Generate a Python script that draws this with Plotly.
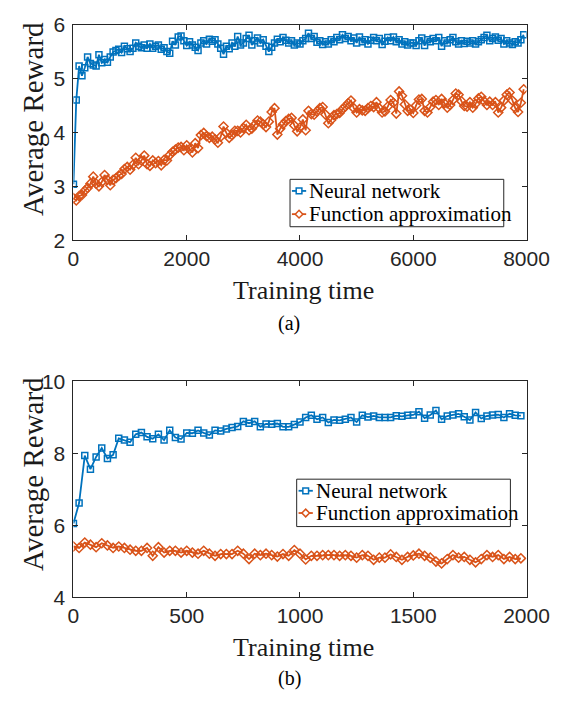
import plotly.graph_objects as go

W, H = 579, 702

# ---- data: (a) long run, sampled every 50 steps ----
time_a = list(range(0, 8000, 50))
nn_a = [
    3.04, 4.60, 5.23, 5.05, 5.20, 5.40, 5.28, 5.25, 5.23, 5.44,
    5.29, 5.35, 5.30, 5.40, 5.49, 5.52, 5.54, 5.48, 5.60, 5.55,
    5.50, 5.56, 5.66, 5.60, 5.57, 5.62, 5.56, 5.64, 5.56, 5.60,
    5.62, 5.54, 5.57, 5.50, 5.47, 5.69, 5.62, 5.77, 5.79, 5.70,
    5.61, 5.68, 5.62, 5.58, 5.52, 5.66, 5.70, 5.64, 5.73, 5.69,
    5.72, 5.64, 5.56, 5.45, 5.60, 5.55, 5.66, 5.60, 5.78, 5.62,
    5.66, 5.74, 5.80, 5.62, 5.70, 5.75, 5.66, 5.72, 5.60, 5.50,
    5.58, 5.66, 5.73, 5.68, 5.76, 5.71, 5.66, 5.70, 5.62, 5.66,
    5.64, 5.70, 5.74, 5.84, 5.74, 5.78, 5.67, 5.70, 5.63, 5.68,
    5.64, 5.72, 5.68, 5.76, 5.72, 5.81, 5.74, 5.78, 5.70, 5.75,
    5.66, 5.77, 5.68, 5.72, 5.64, 5.71, 5.76, 5.70, 5.74, 5.63,
    5.69, 5.76, 5.70, 5.77, 5.68, 5.72, 5.64, 5.68, 5.62, 5.66,
    5.66, 5.61, 5.70, 5.75, 5.61, 5.72, 5.68, 5.74, 5.70, 5.76,
    5.60, 5.70, 5.66, 5.72, 5.76, 5.68, 5.64, 5.70, 5.65, 5.69,
    5.66, 5.70, 5.64, 5.68, 5.72, 5.76, 5.80, 5.70, 5.74, 5.77,
    5.71, 5.74, 5.64, 5.70, 5.66, 5.63, 5.68, 5.66, 5.72, 5.81,
]
fa_a = [
    2.78, 2.74, 2.82, 2.84, 2.92, 2.97, 3.05, 3.18, 3.05, 3.00,
    3.08, 3.21, 3.12, 3.02, 3.12, 3.15, 3.20, 3.23, 3.32, 3.36,
    3.31, 3.40, 3.53, 3.41, 3.48, 3.57, 3.41, 3.38, 3.48, 3.43,
    3.47, 3.39, 3.49, 3.48, 3.58, 3.64, 3.68, 3.72, 3.73, 3.67,
    3.76, 3.69, 3.63, 3.80, 3.71, 3.95, 3.99, 3.93, 3.90, 3.92,
    3.87, 3.81, 3.92, 4.11, 3.99, 3.90, 3.95, 4.03, 4.03, 4.00,
    4.08, 4.14, 4.04, 4.07, 4.14, 4.22, 4.20, 4.15, 4.10, 4.20,
    4.38, 4.45, 3.96, 4.07, 4.15, 4.21, 4.25, 4.27, 4.13, 4.02,
    4.09, 4.24, 4.04, 4.40, 4.34, 4.33, 4.39, 4.45, 4.47, 4.33,
    4.17, 4.23, 4.32, 4.34, 4.36, 4.43, 4.48, 4.54, 4.59, 4.45,
    4.37, 4.43, 4.41, 4.40, 4.45, 4.49, 4.47, 4.56, 4.45, 4.37,
    4.39, 4.48, 4.60, 4.55, 4.35, 4.76, 4.68, 4.52, 4.40, 4.42,
    4.36, 4.50, 4.61, 4.62, 4.40, 4.37, 4.47, 4.57, 4.60, 4.51,
    4.62, 4.54, 4.46, 4.51, 4.60, 4.72, 4.70, 4.58, 4.49, 4.48,
    4.56, 4.46, 4.53, 4.63, 4.66, 4.58, 4.51, 4.57, 4.51, 4.56,
    4.37, 4.46, 4.59, 4.70, 4.74, 4.59, 4.45, 4.38, 4.55, 4.80,
]

# ---- data: (b) short run, sampled every 25 steps ----
time_b = list(range(0, 2000, 25))
nn_b = [
    6.05, 6.62, 7.94, 7.56, 7.90, 8.15, 7.86, 7.96, 8.42, 8.37,
    8.31, 8.53, 8.58, 8.46, 8.41, 8.53, 8.37, 8.64, 8.44, 8.40,
    8.57, 8.56, 8.64, 8.57, 8.51, 8.64, 8.62, 8.68, 8.72, 8.75,
    8.89, 8.84, 8.89, 8.74, 8.82, 8.81, 8.83, 8.74, 8.74, 8.80,
    8.87, 9.00, 9.06, 8.95, 9.00, 8.86, 8.93, 8.92, 8.95, 9.00,
    8.87, 9.06, 9.01, 9.04, 9.00, 9.00, 9.00, 9.05, 9.03, 9.06,
    9.07, 9.16, 8.98, 9.07, 9.19, 8.95, 9.04, 9.07, 9.10, 9.02,
    8.93, 9.14, 8.97, 9.04, 9.07, 9.08, 9.00, 9.10, 9.06, 9.05,
]
fa_b = [
    5.41, 5.37, 5.52, 5.46, 5.39, 5.50, 5.44, 5.37, 5.41, 5.37,
    5.32, 5.29, 5.29, 5.37, 5.15, 5.39, 5.24, 5.29, 5.29, 5.24,
    5.29, 5.24, 5.21, 5.29, 5.21, 5.15, 5.20, 5.20, 5.20, 5.29,
    5.21, 5.06, 5.21, 5.17, 5.21, 5.17, 5.13, 5.20, 5.15, 5.31,
    5.21, 5.05, 5.15, 5.15, 5.17, 5.17, 5.17, 5.15, 5.17, 5.15,
    5.10, 5.17, 5.15, 5.04, 5.10, 5.10, 5.19, 5.12, 5.04, 5.12,
    5.16, 5.21, 5.15, 5.10, 4.99, 4.94, 5.06, 5.17, 5.10, 5.12,
    5.04, 4.97, 5.06, 5.17, 5.12, 5.17, 5.06, 5.12, 5.06, 5.08,
]

series_names = ["Neural network", "Function approximation"]
x_ticks_a = [0, 2000, 4000, 6000, 8000]
y_ticks_a = [2, 3, 4, 5, 6]
x_ticks_b = [0, 500, 1000, 1500, 2000]
y_ticks_b = [4, 6, 8, 10]

BLUE = "#0072BD"
ORANGE = "#D95319"
AXC = "#262626"
SERIF = "Liberation Serif, Times New Roman, serif"
SANS = "Liberation Sans, Arial, sans-serif"


def px(x):
    return x / W


def py(y):
    return 1 - y / H


fig = go.Figure()

styles = [
    dict(color=BLUE, symbol="square-open", size=6),
    dict(color=ORANGE, symbol="diamond-open", size=7),
]

for xa, ya, tx, ys in [("x", "y", time_a, (nn_a, fa_a)), ("x2", "y2", time_b, (nn_b, fa_b))]:
    for name, vals, st in zip(series_names, ys, styles):
        fig.add_trace(go.Scatter(
            x=tx, y=vals, name=name, xaxis=xa, yaxis=ya, mode="lines+markers",
            line=dict(color=st["color"], width=1.8),
            marker=dict(symbol=st["symbol"], size=st["size"], color=st["color"],
                        line=dict(width=1.5, color=st["color"])),
            showlegend=False,
        ))

axis_common = dict(
    showline=True, linecolor=AXC, linewidth=1, mirror="ticks",
    ticks="inside", ticklen=5, tickcolor=AXC, tickwidth=1,
    tickfont=dict(family=SANS, size=21, color=AXC),
    showgrid=False, zeroline=False, fixedrange=True,
)

xdom = [px(71), px(548)]
fig.update_layout(
    width=W, height=H,
    margin=dict(l=0, r=0, t=0, b=0),
    paper_bgcolor="white", plot_bgcolor="white",
    xaxis=dict(axis_common, domain=xdom, range=[0, 8000], tickvals=x_ticks_a, anchor="y"),
    yaxis=dict(axis_common, domain=[py(236), py(13)], range=[2, 6], tickvals=y_ticks_a,
               anchor="x", ticklabelstandoff=3),
    xaxis2=dict(axis_common, domain=xdom, range=[0, 2000], tickvals=x_ticks_b, anchor="y2"),
    yaxis2=dict(axis_common, domain=[py(605), py(382)], range=[4, 10], tickvals=y_ticks_b,
                anchor="x2", ticklabelstandoff=3),
)

shapes = []
annotations = []


def text(x, y, s, size, angle=0, xanchor="center", color="#000000", family=SERIF):
    annotations.append(dict(
        x=px(x), y=py(y), xref="paper", yref="paper", text=s, showarrow=False,
        font=dict(family=family, size=size, color=color), textangle=angle,
        xanchor=xanchor, yanchor="middle",
    ))


# axis titles and panel captions
for (axis_bottom, ymid, cap_y, cap) in [(236, 111, 322, "(a)"), (605, 478, 689, "(b)")]:
    text(313, axis_bottom + 52, "Training time", 26, color="#1a1a1a")
    text(29, ymid, "Average Reward", 29, angle=-90, color="#1a1a1a")
    text(298, cap_y, cap, 20)


# legend boxes with line-and-marker keys
def legend(x0, y0, x1, y1, rows, key_x0, key_x1, text_x):
    shapes.append(dict(type="rect", xref="paper", yref="paper",
                       x0=px(x0), x1=px(x1), y0=py(y1), y1=py(y0),
                       line=dict(color=AXC, width=1), fillcolor="white", layer="above"))
    for (ry, name, st) in zip(rows, series_names, styles):
        c = st["color"]
        shapes.append(dict(type="line", xref="paper", yref="paper",
                           x0=px(key_x0), x1=px(key_x1), y0=py(ry), y1=py(ry),
                           line=dict(color=c, width=1.8), layer="above"))
        cx = (key_x0 + key_x1) / 2
        if "square" in st["symbol"]:
            shapes.append(dict(type="rect", xref="paper", yref="paper",
                               x0=px(cx - 3), x1=px(cx + 3), y0=py(ry + 3), y1=py(ry - 3),
                               line=dict(color=c, width=1.5), fillcolor="white", layer="above"))
        else:
            path = "M {} {} L {} {} L {} {} L {} {} Z".format(
                px(cx - 4), py(ry), px(cx), py(ry - 4), px(cx + 4), py(ry), px(cx), py(ry + 4))
            shapes.append(dict(type="path", xref="paper", yref="paper", path=path,
                               line=dict(color=c, width=1.5), fillcolor="white", layer="above"))
        text(text_x, ry, name, 21, xanchor="left")


legend(299, 173, 524, 222, [185, 209], 301, 316, 317)
legend(306, 483, 531, 532, [495, 518], 308, 323, 324)

fig.update_layout(shapes=shapes, annotations=annotations)

fig.write_html("out.html")
